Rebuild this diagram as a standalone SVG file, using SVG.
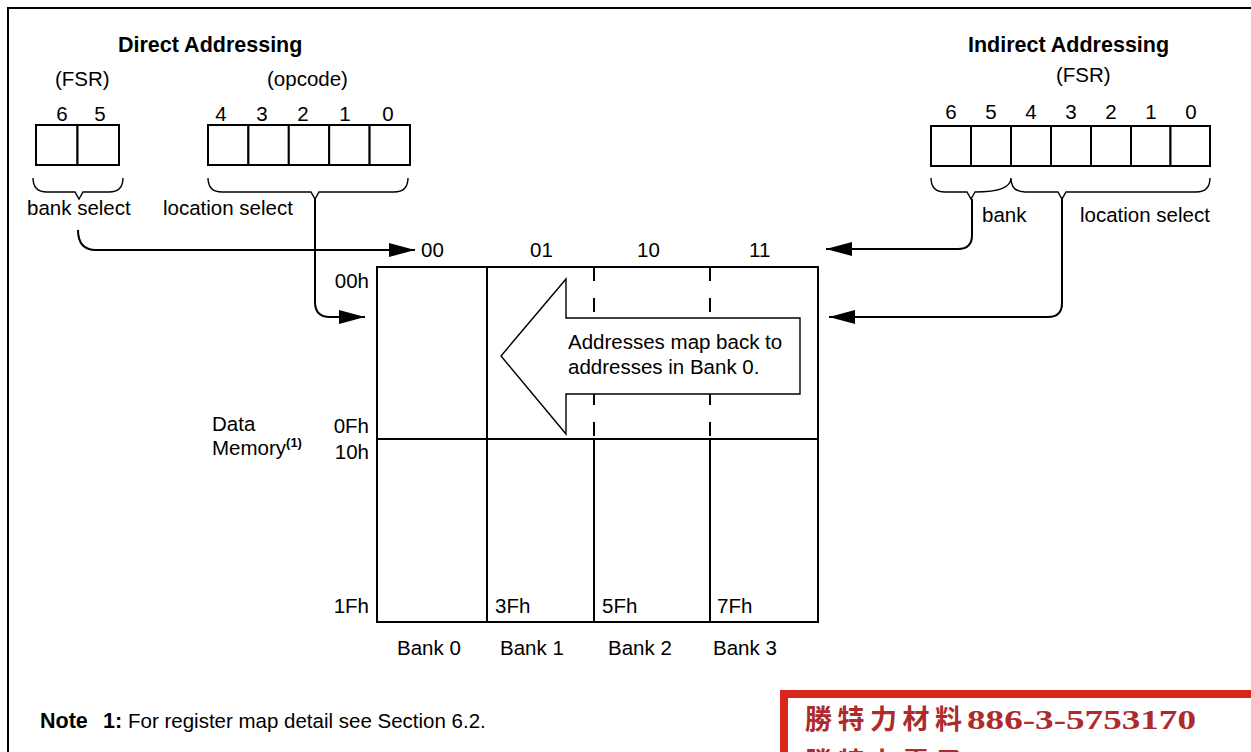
<svg xmlns="http://www.w3.org/2000/svg" width="1251" height="752" viewBox="0 0 1251 752">
<style>
.t{font-family:"Liberation Sans",Arial,Helvetica,sans-serif;font-size:20.5px;fill:#000}
.b{font-weight:bold;font-size:21.5px}
.m{text-anchor:middle}
.e{text-anchor:end}
.box{fill:#fff;stroke:#000;stroke-width:2}
.ln{fill:none;stroke:#000;stroke-width:2}
.br{fill:none;stroke:#000;stroke-width:1.4}
.dash{fill:none;stroke:#000;stroke-width:2;stroke-dasharray:14 17}
.stamp{font-family:"Noto Sans CJK TC","Noto Sans CJK SC",serif;font-weight:bold;fill:#ae2a2c;font-size:27px;letter-spacing:5.5px}
.num{font-family:"Liberation Serif","Times New Roman",serif;font-weight:bold;font-size:28px}
</style>
<defs>
<marker id="ah" markerUnits="userSpaceOnUse" markerWidth="26" markerHeight="14" refX="26" refY="7" orient="auto">
<path d="M0,0 L26,7 L0,14 z" fill="#000"/>
</marker>
</defs>
<rect width="1251" height="752" fill="#fff"/>
<path class="ln" d="M8,752 L8,8 L1251,8"/>

<g id="direct-addressing">
<text class="t b" x="118" y="52">Direct Addressing</text>
<text class="t" x="55" y="86">(FSR)</text>
<text class="t" x="267" y="86">(opcode)</text>
<text class="t m" x="62" y="121">6</text>
<text class="t m" x="100" y="121">5</text>
<text class="t m" x="221" y="121">4</text>
<text class="t m" x="262" y="121">3</text>
<text class="t m" x="303" y="121">2</text>
<text class="t m" x="345" y="121">1</text>
<text class="t m" x="388" y="121">0</text>
<rect class="box" x="36" y="125" width="41.5" height="40"/>
<rect class="box" x="77.5" y="125" width="41.5" height="40"/>
<rect class="box" x="208" y="125" width="40.4" height="40"/>
<rect class="box" x="248.4" y="125" width="40.4" height="40"/>
<rect class="box" x="288.8" y="125" width="40.4" height="40"/>
<rect class="box" x="329.2" y="125" width="40.4" height="40"/>
<rect class="box" x="369.6" y="125" width="40.4" height="40"/>
<path class="br" d="M33,178 Q33,192 47,192 L75,192 L79,199 L83,192 L109,192 Q123,192 123,178"/>
<path class="br" d="M208,178 Q208,192 222,192 L311,192 L315,199 L319,192 L394,192 Q408,192 408,178"/>
<text class="t" x="27" y="215">bank select</text>
<text class="t" x="163" y="215">location select</text>
</g>

<g id="indirect-addressing">
<text class="t b" x="968" y="52">Indirect Addressing</text>
<text class="t" x="1056" y="82">(FSR)</text>
<text class="t m" x="951" y="119">6</text>
<text class="t m" x="991" y="119">5</text>
<text class="t m" x="1031" y="119">4</text>
<text class="t m" x="1071" y="119">3</text>
<text class="t m" x="1111" y="119">2</text>
<text class="t m" x="1151" y="119">1</text>
<text class="t m" x="1191" y="119">0</text>
<rect class="box" x="931" y="126" width="40" height="40"/>
<rect class="box" x="971" y="126" width="40" height="40"/>
<rect class="box" x="1011" y="126" width="40" height="40"/>
<rect class="box" x="1051" y="126" width="40" height="40"/>
<rect class="box" x="1091" y="126" width="40" height="40"/>
<rect class="box" x="1131" y="126" width="39.5" height="40"/>
<rect class="box" x="1170.5" y="126" width="39.5" height="40"/>
<path class="br" d="M931,178 Q931,192 945,192 L967,192 L971,199 L975,192 Q1011,192 1011,178 Q1011,192 1025,192 L1058,192 L1062,199 L1066,192 L1196,192 Q1210,192 1210,178"/>
<text class="t" x="982" y="222">bank</text>
<text class="t" x="1080" y="222">location select</text>
</g>

<g id="data-memory">
<rect class="ln" x="377" y="267" width="441" height="355"/>
<line class="ln" x1="377" y1="439" x2="818" y2="439"/>
<line class="ln" x1="487" y1="267" x2="487" y2="622"/>
<line class="ln" x1="594" y1="439" x2="594" y2="622"/>
<line class="ln" x1="710" y1="439" x2="710" y2="622"/>
<line class="dash" x1="594" y1="267" x2="594" y2="439"/>
<line class="dash" x1="710" y1="267" x2="710" y2="439"/>
<text class="t" x="421" y="257">00</text>
<text class="t" x="530" y="257">01</text>
<text class="t" x="637" y="257">10</text>
<text class="t" x="749" y="257">11</text>
<text class="t e" x="369" y="288">00h</text>
<text class="t e" x="369" y="433">0Fh</text>
<text class="t e" x="369" y="459">10h</text>
<text class="t e" x="369" y="613">1Fh</text>
<text class="t" x="495" y="613">3Fh</text>
<text class="t" x="602" y="613">5Fh</text>
<text class="t" x="717" y="613">7Fh</text>
<text class="t" x="212" y="431">Data</text>
<text class="t" x="212" y="455">Memory<tspan font-weight="bold" font-size="13" dy="-8">(1)</tspan></text>
<text class="t" x="397" y="655">Bank 0</text>
<text class="t" x="500" y="655">Bank 1</text>
<text class="t" x="608" y="655">Bank 2</text>
<text class="t" x="713" y="655">Bank 3</text>
</g>

<g id="map-back-arrow">
<polygon points="800,318 566,318 566,279 501,356 566,434 566,394 800,394" fill="#fff" stroke="#000" stroke-width="1.4"/>
<text class="t" x="568" y="349">Addresses map back to</text>
<text class="t" x="568" y="374">addresses in Bank 0.</text>
</g>

<g id="connectors">
<path class="ln" d="M78,230 Q78,250 96,250 L415,250" marker-end="url(#ah)"/>
<path class="ln" d="M315,199 L315,302 Q315,317 330,317 L365,317" marker-end="url(#ah)"/>
<path class="ln" d="M972,199 L972,235 Q972,249 958,249 L826,249" marker-end="url(#ah)"/>
<path class="ln" d="M1062,199 L1062,303 Q1062,317 1048,317 L829,317" marker-end="url(#ah)"/>
</g>

<g id="note">
<text class="t b" x="40" y="728" font-size="20.5">Note</text>
<text class="t b" x="103" y="728" font-size="20.5">1:</text>
<text class="t" x="128" y="728">For register map detail see Section 6.2.</text>
</g>

<g id="stamp">
<rect x="784" y="694" width="480" height="80" fill="#fff" stroke="#d9261c" stroke-width="8"/>
<text class="stamp" x="805" y="729">勝特力材料</text>
<text class="num" x="967" y="729" fill="#ae2a2c" textLength="229" lengthAdjust="spacingAndGlyphs">886-3-5753170</text>
<text class="stamp" x="805" y="772">勝特力電子</text>
</g>
</svg>
